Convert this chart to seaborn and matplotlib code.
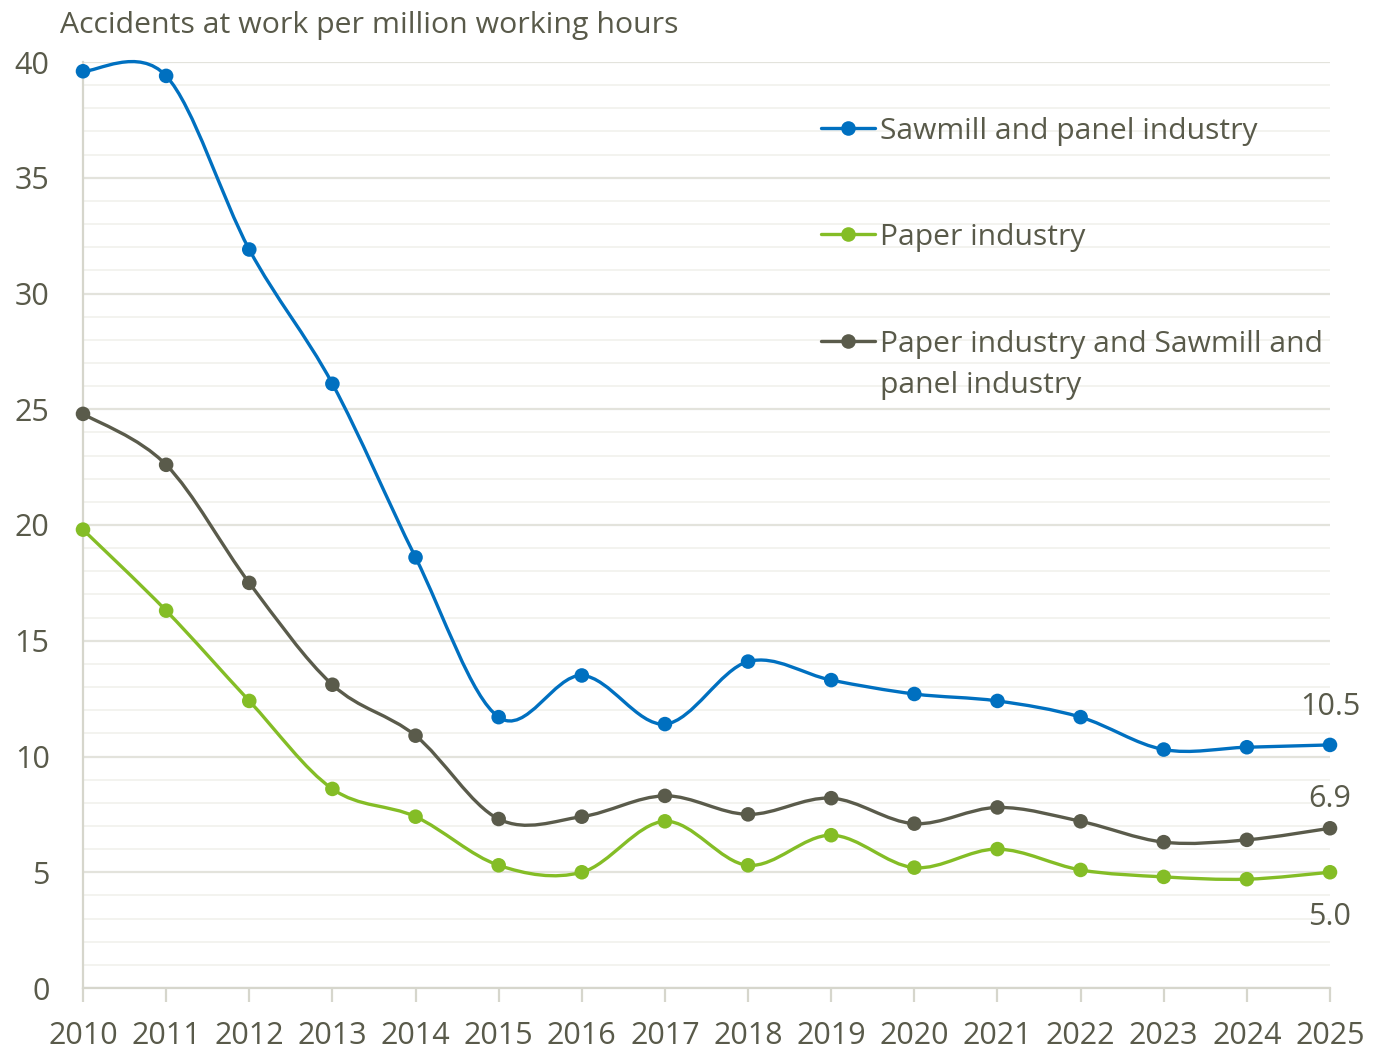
import matplotlib
matplotlib.use("Agg")
import matplotlib.pyplot as plt
import numpy as np
import pandas as pd
import seaborn as sns
from matplotlib.path import Path
from matplotlib.patches import PathPatch
from matplotlib.ticker import MultipleLocator

# Data
years = list(range(2010, 2026))
sawmill = [39.6, 39.4, 31.9, 26.1, 18.6, 11.7, 13.5, 11.4, 14.1, 13.3, 12.7, 12.4, 11.7, 10.3, 10.4, 10.5]
paper = [19.8, 16.3, 12.4, 8.6, 7.4, 5.3, 5.0, 7.2, 5.3, 6.6, 5.2, 6.0, 5.1, 4.8, 4.7, 5.0]
combined = [24.8, 22.6, 17.5, 13.1, 10.9, 7.3, 7.4, 8.3, 7.5, 8.2, 7.1, 7.8, 7.2, 6.3, 6.4, 6.9]
series_names = ["Sawmill and panel industry", "Paper industry",
                "Paper industry and Sawmill and panel industry"]
legend_lines = [["Sawmill and panel industry"], ["Paper industry"],
                ["Paper industry and Sawmill and", "panel industry"]]
colors = ["#0070c0", "#84bd26", "#5a5b4b"]
text_color = "#595a4a"

df = pd.DataFrame({
    "year": years * 3,
    "value": sawmill + paper + combined,
    "series": [series_names[0]] * 16 + [series_names[1]] * 16 + [series_names[2]] * 16,
})

sns.set_theme(style="white")
plt.rcParams["font.family"] = ["Open Sans", "DejaVu Sans"]

W, H = 1391, 1050


def smooth_path(x, y):
    # Bezier path through the points (like a spreadsheet "smoothed line")
    pts = np.column_stack([x, y]).astype(float)
    n = len(pts)
    verts = [pts[0]]
    codes = [Path.MOVETO]
    for i in range(n - 1):
        p_prev = pts[i - 1] if i > 0 else pts[i]
        p_next2 = pts[i + 2] if i + 2 < n else pts[i + 1]
        c1 = pts[i] + (pts[i + 1] - p_prev) / 6.0
        c2 = pts[i + 1] - (p_next2 - pts[i]) / 6.0
        verts += [c1, c2, pts[i + 1]]
        codes += [Path.CURVE4] * 3
    return Path(verts, codes)


fig = plt.figure(figsize=(W / 100, H / 100), dpi=100)
ax = fig.add_axes([83 / W, 62 / H, (1330 - 83) / W, (988 - 62) / H])

# smoothed lines
for vals, col in zip([sawmill, paper, combined], colors):
    patch = PathPatch(smooth_path(years, vals), facecolor="none", edgecolor=col,
                      lw=2.4, zorder=3, clip_on=False)
    ax.add_patch(patch)

sns.scatterplot(data=df, x="year", y="value", hue="series", hue_order=series_names,
                palette=colors, s=110, edgecolor="none", legend=False, ax=ax,
                zorder=4, clip_on=False)

ax.set_xlim(2010, 2025)
ax.set_ylim(0, 40)
ax.set_xlabel("")
ax.set_ylabel("")

ax.xaxis.set_major_locator(MultipleLocator(1))
ax.yaxis.set_major_locator(MultipleLocator(5))
ax.yaxis.set_minor_locator(MultipleLocator(1))
ax.grid(which="major", axis="y", color="#e3e3dc", lw=1.6)
ax.grid(which="minor", axis="y", color="#f3f3ef", lw=1.4)
ax.set_axisbelow(True)

for s in ["top", "right"]:
    ax.spines[s].set_visible(False)
for s in ["left", "bottom"]:
    ax.spines[s].set_color("#d6d6cc")
    ax.spines[s].set_linewidth(1.6)

ax.tick_params(axis="x", which="major", bottom=True, length=10, width=1.6, color="#d6d6cc",
               labelsize=22, labelcolor=text_color, pad=14)
ax.tick_params(axis="y", which="both", left=False, length=0, labelsize=22,
               labelcolor=text_color, pad=24)

fig.text(60 / W, 1 - 25 / H, "Accidents at work per million working hours",
         fontsize=21.8, color=text_color, va="center", ha="left")

# end labels
ax.annotate(f"{sawmill[-1]:.1f}", (years[-1], sawmill[-1]), xytext=(0, 27),
            textcoords="offset points", ha="center", va="center", fontsize=22, color=text_color)
ax.annotate(f"{combined[-1]:.1f}", (years[-1], combined[-1]), xytext=(0, 21),
            textcoords="offset points", ha="center", va="center", fontsize=22, color=text_color)
ax.annotate(f"{paper[-1]:.1f}", (years[-1], paper[-1]), xytext=(0, -32),
            textcoords="offset points", ha="center", va="center", fontsize=22, color=text_color)

# legend drawn by hand (line + marker, label lines to the right)
entry_y = [128, 234, 341]
for lines, col, yp in zip(legend_lines, colors, entry_y):
    yf = 1 - yp / H
    fig.add_artist(plt.Line2D([821 / W, 875 / W], [yf, yf], color=col, lw=2.4,
                              transform=fig.transFigure))
    fig.add_artist(plt.Line2D([848 / W], [yf], color=col, marker="o", markersize=10.5,
                              markeredgewidth=0, transform=fig.transFigure))
    for k, txt in enumerate(lines):
        fig.text(880 / W, 1 - (yp + 3 + 42 * k) / H, txt, fontsize=21.6, color=text_color,
                 ha="left", va="center")

fig.savefig("out.png", dpi=100, facecolor="white")
